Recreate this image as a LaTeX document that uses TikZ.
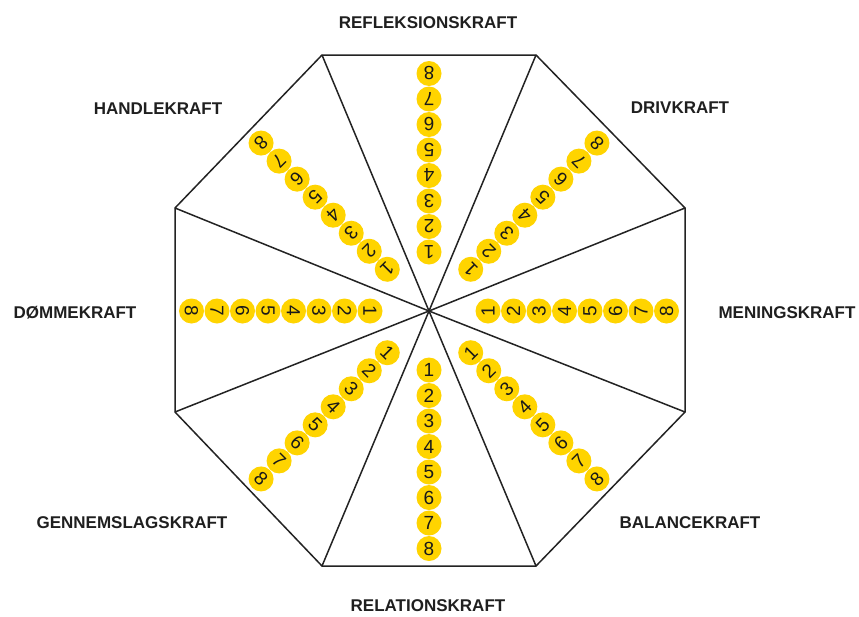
\documentclass[tikz,border=0pt]{standalone}
\usepackage{fontspec}
\setmainfont{Liberation Sans}
\definecolor{gold}{RGB}{255,212,0}
\definecolor{edge}{RGB}{35,35,35}
\begin{document}
\begin{tikzpicture}[x=1pt,y=-1pt,
  numdot/.style={circle,fill=gold,minimum size=25pt,inner sep=0pt,text=black!90,font=\fontsize{19}{19}\selectfont},
  lab/.style={anchor=base,font=\fontsize{17}{17}\selectfont\bfseries,text=black!88},
  octline/.style={draw=edge,line width=1.5pt,line join=miter}]
\useasboundingbox (0,0) rectangle (859,616);
\fill[white] (0,0) rectangle (859,616);
\coordinate (c) at (429,311);
\coordinate (v1) at (322,55);
\coordinate (v2) at (536,55);
\coordinate (v3) at (685,208);
\coordinate (v4) at (685,412);
\coordinate (v5) at (536,566);
\coordinate (v6) at (322,566);
\coordinate (v7) at (175,412);
\coordinate (v8) at (175,208);
\draw[octline] (v1) -- (v2) -- (v3) -- (v4) -- (v5) -- (v6) -- (v7) -- (v8) -- cycle;
\foreach \k in {1,...,8} \draw[octline] (c) -- (v\k);
\foreach \a in {90,45,0,-45,-90,-135,180,135} {
  \foreach \i in {1,...,8} {
    \node[numdot,rotate=\a+90] (n\a-\i) at ({429+(59+25.5*(\i-1))*cos(\a)},{311-(59+25.5*(\i-1))*sin(\a)}) {\i};
  }
}
\node[lab] (l1) at (428,28) {REFLEKSIONSKRAFT};
\node[lab] (l2) at (158,114) {HANDLEKRAFT};
\node[lab] (l3) at (680,113) {DRIVKRAFT};
\node[lab] (l4) at (75,318) {DØMMEKRAFT};
\node[lab] (l5) at (787,318) {MENINGSKRAFT};
\node[lab] (l6) at (132,528) {GENNEMSLAGSKRAFT};
\node[lab] (l7) at (690,528) {BALANCEKRAFT};
\node[lab] (l8) at (428,611) {RELATIONSKRAFT};
\end{tikzpicture}
\end{document}
